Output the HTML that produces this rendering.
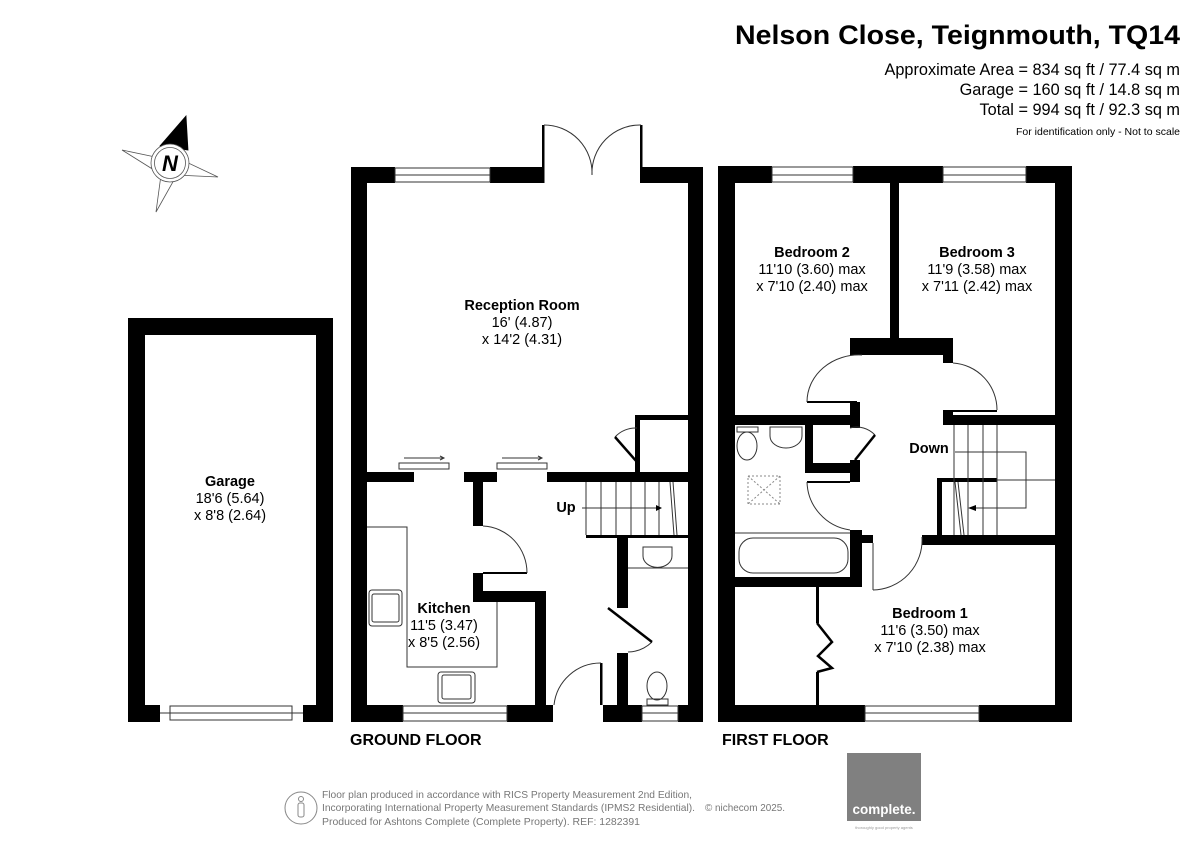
<!DOCTYPE html>
<html><head><meta charset="utf-8"><style>
html,body{margin:0;padding:0;background:#fff}
svg{display:block}
text{font-family:"Liberation Sans",Arial,sans-serif}
</style></head><body>
<svg width="1200" height="849" viewBox="0 0 1200 849" xmlns="http://www.w3.org/2000/svg">
<rect width="1200" height="849" fill="#fff"/>

<!-- Header -->
<text x="1180" y="44" text-anchor="end" font-size="27" font-weight="bold" textLength="445" lengthAdjust="spacingAndGlyphs">Nelson Close, Teignmouth, TQ14</text>
<text x="1180" y="75" text-anchor="end" font-size="16.3">Approximate Area = 834 sq ft / 77.4 sq m</text>
<text x="1180" y="95" text-anchor="end" font-size="16.3">Garage = 160 sq ft / 14.8 sq m</text>
<text x="1180" y="115" text-anchor="end" font-size="16.3">Total = 994 sq ft / 92.3 sq m</text>
<text x="1180" y="135" text-anchor="end" font-size="10.5">For identification only - Not to scale</text>

<!-- Compass -->
<g stroke="#555" stroke-width="0.8" fill="#fff">
<polygon points="122,150 160,158 154,170"/>
<polygon points="218,177 182,160 176,175"/>
<polygon points="156,212 161,175 174,180"/>
<polygon points="186,116 160,146 188,150" fill="#000" stroke="#000"/>
<circle cx="170" cy="163" r="19"/>
<circle cx="170" cy="163" r="15.5"/>
</g>
<text x="170" y="171" text-anchor="middle" font-size="22" font-weight="bold" font-style="italic">N</text>

<!-- Garage -->
<g fill="#000">
<rect x="128" y="318" width="205" height="17"/>
<rect x="128" y="318" width="17" height="404"/>
<rect x="316" y="318" width="17" height="404"/>
<rect x="128" y="705" width="32" height="17"/>
<rect x="303" y="705" width="30" height="17"/>
</g>
<rect x="170" y="706" width="122" height="14" fill="#fff" stroke="#333" stroke-width="1"/>
<line x1="160" y1="713" x2="303" y2="713" stroke="#333" stroke-width="1"/>
<text x="230" y="486" text-anchor="middle" font-size="14.5" font-weight="bold">Garage</text>
<text x="230" y="503" text-anchor="middle" font-size="14.5">18'6 (5.64)</text>
<text x="230" y="520" text-anchor="middle" font-size="14.5">x 8'8 (2.64)</text>

<!-- Ground floor walls -->
<g fill="#000">
<rect x="351" y="167" width="16" height="555"/>
<rect x="351" y="167" width="44" height="16"/>
<rect x="490" y="167" width="54" height="16"/>
<rect x="641" y="167" width="62" height="16"/>
<rect x="688" y="167" width="15" height="555"/>
<rect x="542" y="125" width="2.5" height="58"/>
<rect x="640" y="125" width="2.5" height="58"/>
<!-- middle wall -->
<rect x="367" y="472" width="47" height="10"/>
<rect x="464" y="472" width="33" height="10"/>
<rect x="547" y="472" width="141" height="10"/>
<rect x="473" y="472" width="10" height="54"/>
<rect x="473" y="573" width="10" height="29"/>
<rect x="473" y="591" width="73" height="11"/>
<rect x="535" y="591" width="11" height="114"/>
<rect x="483" y="572" width="44" height="2"/>
<!-- bottom -->
<rect x="351" y="705" width="52" height="17"/>
<rect x="507" y="705" width="46" height="17"/>
<rect x="603" y="705" width="39" height="17"/>
<rect x="678" y="705" width="25" height="17"/>
<!-- WC wall -->
<rect x="617" y="535" width="11" height="73"/>
<rect x="617" y="653" width="11" height="52"/>
<rect x="586" y="535" width="102" height="3"/>
<!-- cupboard -->
<rect x="635" y="415" width="53" height="5"/>
<rect x="635" y="415" width="5" height="57"/>
<rect x="600" y="663" width="2.5" height="42"/>
</g>
<g fill="none" stroke="#333" stroke-width="1">
<path d="M544,125 A48,48 0 0 1 592,175"/>
<path d="M641,125 A48,48 0 0 0 592,175"/>
<rect x="395" y="168" width="95" height="14" fill="#fff"/>
<line x1="395" y1="175" x2="490" y2="175"/>
<rect x="403" y="706" width="104" height="15" fill="#fff"/>
<line x1="403" y1="713" x2="507" y2="713"/>
<rect x="642" y="706" width="36" height="15" fill="#fff"/>
<line x1="642" y1="713" x2="678" y2="713"/>
<!-- sliding doors -->
<rect x="399" y="463" width="50" height="6" fill="#fff"/>
<rect x="497" y="463" width="50" height="6" fill="#fff"/>
<line x1="404" y1="458" x2="444" y2="458"/><path d="M440,456 L444,458 L440,460"/>
<line x1="502" y1="458" x2="542" y2="458"/><path d="M538,456 L542,458 L538,460"/>
<!-- kitchen door arc -->
<path d="M483,526 A46,47 0 0 1 527,573"/>
<!-- entrance arc -->
<path d="M554,705 A47,47 0 0 1 601,663"/>
<!-- WC door -->
<path d="M652,642 A36,36 0 0 1 628,652"/>
<!-- cupboard door -->
<path d="M615,437 A28,28 0 0 1 637,428"/>
<!-- stairs -->
<line x1="601" y1="482" x2="601" y2="535"/><line x1="616" y1="482" x2="616" y2="535"/>
<line x1="631" y1="482" x2="631" y2="535"/><line x1="645" y1="482" x2="645" y2="535"/>
<line x1="659" y1="482" x2="659" y2="535"/><line x1="586" y1="482" x2="586" y2="535"/>
<line x1="670" y1="482" x2="674" y2="535"/><line x1="673" y1="482" x2="677" y2="535"/>
<line x1="582" y1="508" x2="656" y2="508"/>
<!-- kitchen counter -->
<path d="M367,527 L407,527 L407,667 L497,667 L497,602"/>
<rect x="369" y="590" width="33" height="36" rx="3"/>
<rect x="372" y="594" width="27" height="28" rx="2"/>
<rect x="438" y="672" width="37" height="31" rx="3"/>
<rect x="442" y="675" width="29" height="24" rx="2"/>
<!-- WC fixtures -->
<line x1="628" y1="568" x2="688" y2="568"/>
<path d="M643,547 L672,547 L672,556 A14,11 0 0 1 643,556 Z"/>
<ellipse cx="657" cy="686" rx="10" ry="14"/>
<rect x="647" y="699" width="21" height="6"/>
</g>
<polygon points="656,505 662,508 656,511" fill="#000"/>
<line x1="608" y1="608" x2="652" y2="642" stroke="#000" stroke-width="2.5"/>
<line x1="615" y1="437" x2="637" y2="462" stroke="#000" stroke-width="2.5"/>
<text x="566" y="512" text-anchor="middle" font-size="14.5" font-weight="bold">Up</text>
<text x="522" y="310" text-anchor="middle" font-size="14.5" font-weight="bold">Reception Room</text>
<text x="522" y="327" text-anchor="middle" font-size="14.5">16' (4.87)</text>
<text x="522" y="344" text-anchor="middle" font-size="14.5">x 14'2 (4.31)</text>
<text x="444" y="613" text-anchor="middle" font-size="14.5" font-weight="bold">Kitchen</text>
<text x="444" y="630" text-anchor="middle" font-size="14.5">11'5 (3.47)</text>
<text x="444" y="647" text-anchor="middle" font-size="14.5">x 8'5 (2.56)</text>
<text x="350" y="745" font-size="16" font-weight="bold">GROUND FLOOR</text>

<!-- First floor -->
<g fill="#000">
<rect x="718" y="166" width="17" height="556"/>
<rect x="1055" y="166" width="17" height="556"/>
<rect x="718" y="166" width="54" height="17"/>
<rect x="853" y="166" width="90" height="17"/>
<rect x="1026" y="166" width="46" height="17"/>
<rect x="718" y="705" width="147" height="17"/>
<rect x="979" y="705" width="93" height="17"/>
<rect x="890" y="166" width="9" height="180"/>
<rect x="850" y="338" width="103" height="17"/>
<rect x="850" y="338" width="12" height="17"/>
<rect x="943" y="338" width="10" height="25"/>
<rect x="735" y="415" width="125" height="10"/>
<rect x="850" y="402" width="10" height="26"/>
<rect x="943" y="415" width="112" height="10"/>
<rect x="943" y="410" width="10" height="15"/>
<rect x="943" y="410" width="54" height="2"/>
<rect x="805" y="425" width="8" height="48"/>
<rect x="805" y="463" width="52" height="10"/>
<rect x="850" y="460" width="10" height="22"/>
<rect x="807" y="481" width="43" height="2"/>
<rect x="807" y="401" width="50" height="2"/>
<rect x="850" y="530" width="12" height="57"/>
<rect x="850" y="535" width="23" height="8"/>
<rect x="735" y="577" width="125" height="10"/>
<rect x="922" y="535" width="133" height="10"/>
<rect x="937" y="478" width="5" height="57"/>
<rect x="937" y="478" width="60" height="4"/>
<rect x="816" y="587" width="3" height="36"/>
<rect x="816" y="672" width="3" height="33"/>
</g>
<g fill="none" stroke="#333" stroke-width="1">
<rect x="772" y="167" width="81" height="15" fill="#fff"/><line x1="772" y1="175" x2="853" y2="175"/>
<rect x="943" y="167" width="83" height="15" fill="#fff"/><line x1="943" y1="175" x2="1026" y2="175"/>
<rect x="865" y="706" width="114" height="15" fill="#fff"/><line x1="865" y1="713" x2="979" y2="713"/>
<path d="M862,355 A52,47 0 0 0 807,402"/>
<path d="M953,363 A47,47 0 0 1 997,410"/>
<path d="M807,482 A50,50 0 0 0 850,530"/>
<path d="M873,590 A50,50 0 0 0 922,537"/>
<line x1="873" y1="543" x2="873" y2="590"/>
<path d="M875,435 A25,25 0 0 0 850,428"/>
<line x1="735" y1="533" x2="850" y2="533"/>
<rect x="739" y="538" width="109" height="35" rx="14"/>
<ellipse cx="747" cy="446" rx="10" ry="14"/>
<rect x="737" y="427" width="21" height="5"/>
<path d="M770,427 L802,427 L802,436 A16,12 0 0 1 770,436 Z"/>
<rect x="748" y="476" width="32" height="28" stroke-dasharray="2,2" stroke="#888"/>
<path d="M748,476 L780,504 M780,476 L748,504" stroke-dasharray="2,2" stroke="#888"/>
<line x1="954" y1="425" x2="954" y2="535"/><line x1="968" y1="425" x2="968" y2="535"/>
<line x1="983" y1="425" x2="983" y2="535"/><line x1="997" y1="425" x2="997" y2="535"/>
<path d="M955,452 L1026,452 L1026,508 L972,508"/>
<line x1="997" y1="480" x2="1055" y2="480"/>
<line x1="955" y1="482" x2="961" y2="535"/><line x1="958" y1="482" x2="964" y2="535"/>
</g>
<polygon points="968,508 976,505 976,511" fill="#000"/>
<line x1="855" y1="460" x2="875" y2="435" stroke="#000" stroke-width="2.5"/>
<polyline points="817,623 832,642 818,656 832,668 817,672" fill="none" stroke="#000" stroke-width="2.5"/>
<text x="929" y="453" text-anchor="middle" font-size="14.5" font-weight="bold">Down</text>
<text x="812" y="257" text-anchor="middle" font-size="14.5" font-weight="bold">Bedroom 2</text>
<text x="812" y="274" text-anchor="middle" font-size="14.5">11'10 (3.60) max</text>
<text x="812" y="291" text-anchor="middle" font-size="14.5">x 7'10 (2.40) max</text>
<text x="977" y="257" text-anchor="middle" font-size="14.5" font-weight="bold">Bedroom 3</text>
<text x="977" y="274" text-anchor="middle" font-size="14.5">11'9 (3.58) max</text>
<text x="977" y="291" text-anchor="middle" font-size="14.5">x 7'11 (2.42) max</text>
<text x="930" y="618" text-anchor="middle" font-size="14.5" font-weight="bold">Bedroom 1</text>
<text x="930" y="635" text-anchor="middle" font-size="14.5">11'6 (3.50) max</text>
<text x="930" y="652" text-anchor="middle" font-size="14.5">x 7'10 (2.38) max</text>
<text x="722" y="745" font-size="16" font-weight="bold">FIRST FLOOR</text>

<!-- Footer -->
<circle cx="301" cy="808" r="16" fill="none" stroke="#888" stroke-width="1"/>
<circle cx="301" cy="799" r="2.5" fill="none" stroke="#888" stroke-width="1"/>
<rect x="298" y="803" width="6" height="14" rx="2" fill="none" stroke="#888" stroke-width="1"/>
<g font-size="10.5" fill="#777">
<text x="322" y="798" textLength="370" lengthAdjust="spacingAndGlyphs">Floor plan produced in accordance with RICS Property Measurement 2nd Edition,</text>
<text x="322" y="811" textLength="373" lengthAdjust="spacingAndGlyphs">Incorporating International Property Measurement Standards (IPMS2 Residential).</text>
<text x="705" y="811" textLength="80" lengthAdjust="spacingAndGlyphs">© nichecom 2025.</text>
<text x="322" y="825" textLength="318" lengthAdjust="spacingAndGlyphs">Produced for Ashtons Complete (Complete Property).   REF:  1282391</text>
</g>
<rect x="847" y="753" width="74" height="68" fill="#808080"/>
<text x="884" y="814" text-anchor="middle" font-size="13.5" font-weight="bold" fill="#fff">complete.</text>
<text x="884" y="829" text-anchor="middle" font-size="4" fill="#999">thoroughly good property agents</text>
</svg>
</body></html>
